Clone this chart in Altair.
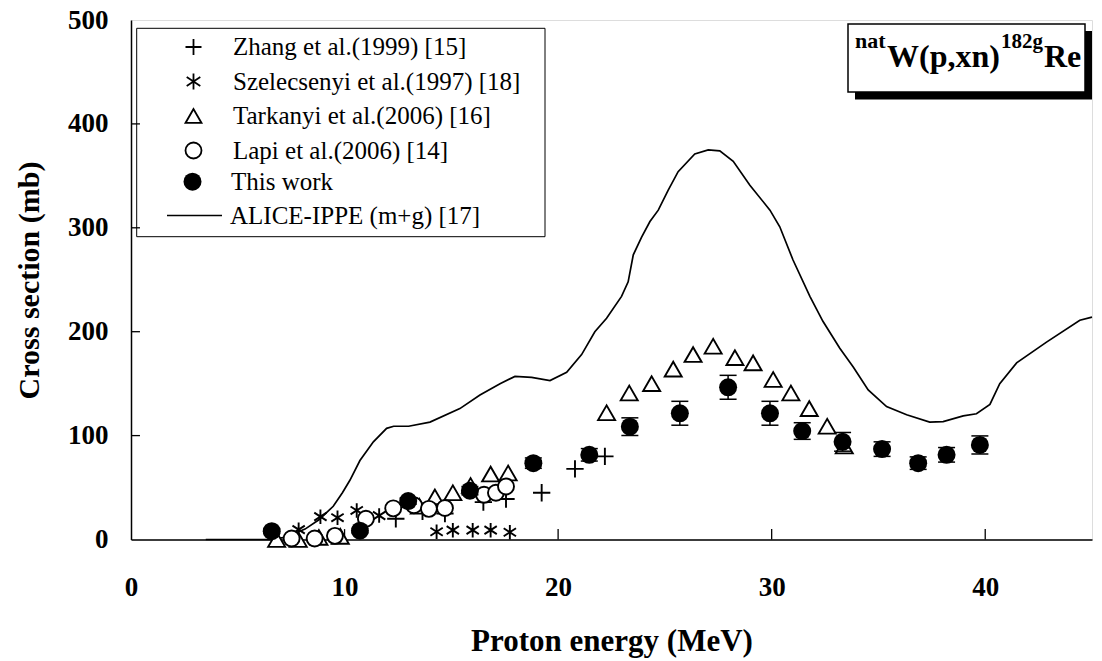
import altair as alt
import pandas as pd

# ---------------- data ----------------
zhang_e = [12.4, 13.65, 14.7, 16.5, 17.56, 19.23, 20.79, 22.19]
zhang_s = [20, 27, 25, 36, 39, 45, 68, 80]

szel_e = [7.85, 8.87, 9.67, 10.57, 11.62, 14.31, 15.07, 16.0, 16.84, 17.74]
szel_s = [9.5, 22, 21, 28, 23, 7.5, 9, 9, 9, 7]

tark_e = [6.82, 7.83, 8.8, 9.8, 13.5, 14.23, 15.07, 15.9, 16.84, 17.66, 22.27, 23.33,
          24.38, 25.39, 26.32, 27.26, 28.28, 29.13, 30.07, 30.9, 31.76, 32.6, 33.4]
tark_s = [0, 0, 2, 3, 32, 41, 45, 52, 63, 64, 122, 141,
          150, 164, 178, 186, 175, 170, 154, 141, 126, 109, 90]

lapi_e = [7.52, 8.6, 9.55, 11.0, 12.28, 13.25, 13.95, 14.7, 16.53, 17.09, 17.56]
lapi_s = [1, 1, 3.5, 20, 30, 33, 29.5, 30.3, 43, 45, 51]

work_e = [6.59, 10.72, 12.98, 15.87, 18.84, 21.46, 23.36, 25.70, 27.96, 29.92,
          31.43, 33.32, 35.17, 36.86, 38.19, 39.75]
work_s = [8, 8.5, 37, 47, 73.5, 81.5, 108.6, 121.5, 146.5, 121.5,
          104.4, 94, 87, 73.5, 81.5, 91]
work_err = [2, 2, 3, 4, 5, 6, 8.5, 11.5, 11.5, 11.5, 8, 9, 7, 6, 7, 8.7]

alice_e = [3.5, 6.5, 7.2, 8.15, 8.8, 9.47, 9.9, 10.25, 10.72, 11.35, 11.97, 12.3, 13.0,
           14.0, 15.4, 16.34, 17.28, 17.98, 18.76, 19.62, 20.4, 21.1, 21.72, 22.27,
           22.97, 23.28, 23.52, 23.91, 24.3, 24.69, 25.15, 25.62, 26.4, 27.03, 27.57,
           28.2, 28.98, 29.92, 30.38, 31.0, 31.79, 32.4, 33.19, 33.82, 34.52, 35.38,
           36.32, 37.4, 38.03, 38.97, 39.59, 40.22, 40.68, 41.47, 42.87, 44.43, 45.0]
alice_s = [0, 0, 2, 10, 19, 32, 45, 57, 76, 94, 107, 109, 109,
           113, 126, 139, 150, 157, 156, 153, 161, 178, 200, 213,
           234, 248, 274, 291, 306, 317, 336, 354, 371, 375, 374,
           364, 341, 317, 301, 269, 234, 210, 184, 166, 144, 128,
           120, 113, 113.5, 119, 121, 130, 150, 170, 190, 211, 214]

open_names = ["Zhang et al.(1999) [15]", "Szelecsenyi et al.(1997) [18]",
              "Tarkanyi et al.(2006) [16]", "Lapi et al.(2006) [14]"]
work_name = "This work"
model_name = "ALICE-IPPE (m+g) [17]"

x_ticks = [0, 10, 20, 30, 40]
y_ticks = [0, 100, 200, 300, 400, 500]
x_inner_ticks = [10, 20, 30, 40]
y_inner_ticks = [100, 200, 300, 400]

title_parts = ["nat", "W(p,xn)", "182g", "Re"]
x_title = "Proton energy (MeV)"
y_title = "Cross section (mb)"

# ---------------- tables ----------------
FONT = "Liberation Serif"
PLUS = "M-1,0H1M0,-1V1"
AST = "M0,-1V1M-0.85,-0.55L0.85,0.55M-0.85,0.55L0.85,-0.55"
open_shapes = [PLUS, AST, "triangle-up", "circle"]
open_sizes = [300, 210, 289, 256]

open_tables = [pd.DataFrame({"E": es, "S": ss, "series": name})
               for name, es, ss in zip(open_names, [zhang_e, szel_e, tark_e, lapi_e],
                                       [zhang_s, szel_s, tark_s, lapi_s])]
work_df = pd.DataFrame({"E": work_e, "S": work_s, "label": work_name})
err_df = pd.DataFrame({"E": work_e,
                       "lo": [s - d for s, d in zip(work_s, work_err)],
                       "hi": [s + d for s, d in zip(work_s, work_err)]})
alice_df = pd.DataFrame({"E": alice_e, "S": alice_s, "model": model_name})
one = pd.DataFrame({"k": [0]})

xs = alt.Scale(domain=[0, 45], nice=False, zero=False)
ys = alt.Scale(domain=[0, 500], nice=False)

xaxis = alt.Axis(values=x_ticks, title=x_title, ticks=False, grid=False,
                 domainColor="black", domainWidth=1.5, labelFlush=False,
                 labelFont=FONT, labelFontSize=27, labelFontWeight="bold", labelColor="black",
                 labelPadding=35, titleFont=FONT, titleFontSize=31, titleFontWeight="bold",
                 titleColor="black", titleY=110.5, titleBaseline="alphabetic")
yaxis = alt.Axis(values=y_ticks, title=y_title, ticks=False, grid=False,
                 domainColor="black", domainWidth=1.5, labelFlush=False,
                 labelFont=FONT, labelFontSize=27, labelFontWeight="bold", labelColor="black",
                 labelPadding=23, titleFont=FONT, titleFontSize=30, titleFontWeight="bold",
                 titleColor="black", titleX=-102, titleY=260, titleBaseline="middle")

common_leg = dict(orient="none", title=None, padding=0, labelFont=FONT, labelFontSize=25,
                  labelColor="black", labelLimit=600)
leg_open = alt.Legend(legendX=50, legendY=14.5, labelOffset=27, rowPadding=8.5,
                      symbolSize=256, symbolStrokeWidth=1.8, symbolOpacity=1, **common_leg)
leg_work = alt.Legend(legendX=49, legendY=149.2, labelOffset=26, symbolSize=324,
                      symbolOpacity=1, symbolType="circle", **common_leg)
leg_line = alt.Legend(legendX=35, legendY=167, labelOffset=7, symbolType="stroke",
                      symbolSize=3025, symbolStrokeWidth=1.7, **common_leg)

# legend box
legend_box = alt.Chart(one).mark_rect(fill="white", stroke="black", strokeWidth=1).encode(
    x=alt.value(5.7), x2=alt.value(414), y=alt.value(8.3), y2=alt.value(216.7))

# model curve
line = alt.Chart(alice_df).mark_line(strokeWidth=1.7).encode(
    x=alt.X("E:Q", scale=xs, axis=xaxis),
    y=alt.Y("S:Q", scale=ys, axis=yaxis),
    stroke=alt.Stroke("model:N", scale=alt.Scale(domain=[model_name], range=["black"]),
                      legend=leg_line))

# error bars
err_rule = alt.Chart(err_df).mark_rule(color="black", strokeWidth=1.5).encode(
    x="E:Q", y="lo:Q", y2="hi:Q")
cap_lo = alt.Chart(err_df).mark_tick(orient="horizontal", size=17, thickness=1.5,
                                     color="black", opacity=1).encode(x="E:Q", y="lo:Q")
cap_hi = alt.Chart(err_df).mark_tick(orient="horizontal", size=17, thickness=1.5,
                                     color="black", opacity=1).encode(x="E:Q", y="hi:Q")

# open-symbol series (one layer each, shared shape scale -> one legend)
shape_scale = alt.Scale(domain=open_names, range=open_shapes)
open_layers = [
    alt.Chart(tbl).mark_point(opacity=1, stroke="black", fill="white", strokeWidth=1.9,
                              size=sz).encode(
        x="E:Q", y="S:Q",
        shape=alt.Shape("series:N", scale=shape_scale, legend=leg_open))
    for tbl, sz in zip(open_tables, open_sizes)
]

# this work (filled circles)
work_pts = alt.Chart(work_df).mark_point(filled=True, opacity=1, size=324, shape="circle").encode(
    x="E:Q", y="S:Q",
    fill=alt.Fill("label:N", scale=alt.Scale(domain=[work_name], range=["black"]),
                  legend=leg_work))

# inner tick marks
xt = alt.Chart(pd.DataFrame({"E": x_inner_ticks})).mark_rule(color="black", strokeWidth=1.3).encode(
    x="E:Q", y=alt.datum(0), y2=alt.datum(10))
yt = alt.Chart(pd.DataFrame({"S": y_inner_ticks})).mark_rule(color="black", strokeWidth=1.3).encode(
    y="S:Q", x=alt.datum(0), x2=alt.datum(0.42))

# reaction label box
shadow = alt.Chart(one).mark_rect(fill="black").encode(
    x=alt.value(724), x2=alt.value(961), y=alt.value(11), y2=alt.value(79.5))
tbox = alt.Chart(one).mark_rect(fill="white", stroke="black", strokeWidth=1.5).encode(
    x=alt.value(717), x2=alt.value(954), y=alt.value(4), y2=alt.value(72))
t1 = alt.Chart(one).mark_text(text=title_parts[0], font=FONT, fontSize=22, fontWeight="bold",
                              align="left", baseline="alphabetic", color="black").encode(
    x=alt.value(724), y=alt.value(28))
t2 = alt.Chart(one).mark_text(text=title_parts[1], font=FONT, fontSize=32, fontWeight="bold",
                              align="left", baseline="alphabetic", color="black").encode(
    x=alt.value(756), y=alt.value(47))
t3 = alt.Chart(one).mark_text(text=title_parts[2], font=FONT, fontSize=21, fontWeight="bold",
                              align="left", baseline="alphabetic", color="black").encode(
    x=alt.value(870), y=alt.value(28))
t4 = alt.Chart(one).mark_text(text=title_parts[3], font=FONT, fontSize=32, fontWeight="bold",
                              align="left", baseline="alphabetic", color="black").encode(
    x=alt.value(913), y=alt.value(47))

chart = alt.layer(
    line, legend_box, xt, yt, *open_layers, err_rule, cap_lo, cap_hi, work_pts,
    shadow, tbox, t1, t2, t3, t4
).properties(
    width=961, height=519.5,
    autosize=alt.AutoSizeParams(type="none"),
    padding={"left": 131, "top": 20, "right": 10, "bottom": 121.5},
).configure_view(stroke="#999999", strokeWidth=2).configure(background="white")

chart.save("out.html", embed_options={"renderer": "svg", "actions": False})
